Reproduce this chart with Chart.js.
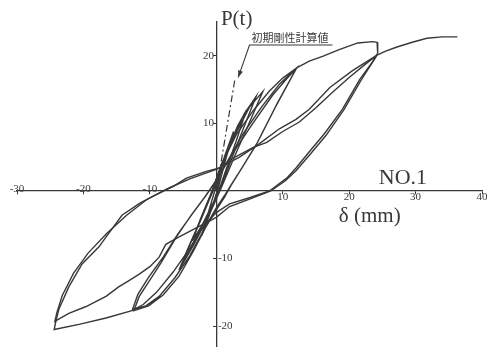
<!DOCTYPE html>
<html><head><meta charset="utf-8">
<script src="https://cdn.jsdelivr.net/npm/chart.js@4/dist/chart.umd.min.js"></script>
<style>html,body{margin:0;padding:0;background:#fff;}#wrap{width:487px;height:356px;}</style>
</head><body><div id="wrap"><canvas id="c" width="487" height="356"></canvas></div>
<script>
// tick values
const deltaTicks = [-30, -20, -10, 0, 10, 20, 30, 40];
const loadTicks = [-20, -10, 0, 10, 20];

// small cycles (delta in mm, load in t)
const smallDelta = [0,1.2,2.6, 1.4,0.3,-1,-2.2, -1.2,0,1.5,3.2,4.5, 3,1.2,0,-1.8,-3.6, -2.4,-0.8,0.8,2.5,4.2,6, 4.3,2,0.4,-1.5,-3.5,-5.3, -4,-2.2,-0.5,1,3,5,7, 5.2,2.8,0.8,-1,-3.3,-5.6];
const smallLoad  = [0,5,8.8, 4.6,0.5,-3.5,-6.6, -3.2,0.8,5.5,9.6,11.9, 7.4,2.4,-1,-4.5,-7.4, -4.2,-0.4,4,8,11.4,14, 9.8,4,0,-3.8,-7.8,-11.2, -8,-4,0,4.2,8.6,12.4,14.7, 10.6,5.2,0.6,-3.4,-7.8,-11.7];

// medium cycles (about +-12 mm)
const mediumDelta = [-5.6,-4.3,-2.5,-0.8,0.8,3,5.5,8,10,12.1, 9,6,3.6,2.2,1.2, 0,-1.6,-3.5,-5.6,-8,-10.2,-12.4, -11.6,-10,-8.3,-6,-3.8,-1.8,0, 1.8,4,6.8,9.5,12.1, 9.2,6.2,3.8,2.3,1.3, 0,-1.8,-4,-6.2,-8.6,-10.6,-12.6, -11.8,-10.2,-8,-5.8,-3.6,-1.5,0.3, 2.5,5.5,8.5,10.5,12.1];
const mediumLoad  = [-11.7,-8.6,-4.6,-0.5,4,8.3,11.8,14.8,16.7,18.2, 12.6,6.8,3,0.8,-1, -2.8,-5.4,-9,-12.6,-15.4,-17,-17.7, -15.6,-13.2,-10.6,-6.8,-3.6,-1,1.6, 4.6,8.4,12.4,15.8,18.2, 13,7.2,3.3,1,-0.6, -2.5,-5.6,-9.6,-12.8,-15.6,-17,-17.5, -15.3,-12.8,-9.8,-6.4,-3.4,-0.6,2, 5.6,10,14.2,16.5,18.2];

// large cycle 1 (about +-24 mm)
const large1Delta = [12.1,14,16,18.5,21.3,23.5,24.2,24.3, 23.6,21.6,19,16.3,14,12,10.6,8,5,2,0, -2,-4.2,-6.5,-9,-11,-12.7, -16.6,-20.5,-24.4, -24.2,-23.7,-22.2,-20.2,-17.7,-14.2,-11.5,-9,-6.6,-4.5,-1.5,0.5, 2.4,5.5,7.6,10,12.5,15,17.5,20,22.5,24.2];
const large1Load  = [18.2,19.2,19.9,20.9,21.9,22.1,22.0,20.4, 19.2,16.5,12.1,8.5,5.8,3.4,1.9,0,-1,-1.9,-3.2, -5.3,-8.8,-12,-15,-16.8,-17.7, -18.8,-19.7,-20.5, -19.5,-17.5,-14.2,-10.8,-8.3,-3.6,-1.8,-0.5,0.6,1.9,2.9,3.4, 4.8,6.4,7.2,8.8,10.2,12.3,14.6,16.8,18.8,20.1];

// large cycle 2
const large2Delta = [24.2,21.8,19.2,16.5,14.2,12,10.4,8.2,5,2,0, -3.3,-5.8,-7.6,-8.6,-10,-11.6,-13.2,-14.7,-16.6,-18,-19.6,-22.2,-24.3, -24,-23.2,-21.5,-19.3,-16.5,-13.5,-10.5,-7.2,-4,0, 3.5,6.5,9.5,12,14,17.1,20.5,24.2];
const large2Load  = [20.1,16.4,12,8.2,5.5,3,1.5,0,-1.2,-2.3,-3.9, -5.6,-6.9,-7.9,-9.8,-11.2,-12.3,-13.3,-14.2,-15.6,-16.3,-17.1,-18.1,-19.3, -18,-15.5,-12.2,-9.2,-6.3,-3.6,-1.3,0.4,1.8,3.2, 5,7,9.2,10.6,12.1,15.3,17.8,20.1];

// final monotonic push
const finalDelta = [24.2,25.5,27.2,29.5,31.7,34,36.3];
const finalLoad  = [20.1,20.7,21.3,22,22.6,22.8,22.8];

// calculated initial stiffness line
const stiffDelta = [0, 2.8];
const stiffLoad  = [0, 16.5];

const ink = '#383838';
const serif = "'Liberation Serif', 'DejaVu Serif', serif";
const pts = (xs, ys) => xs.map((x, i) => ({x: x, y: ys[i]}));
const lineDs = (xs, ys, extra) => Object.assign({
  data: pts(xs, ys), showLine: true, borderColor: ink, borderWidth: 1.4,
  pointRadius: 0, tension: 0, fill: false
}, extra || {});

const annot = {
  id: 'annot',
  afterDraw(chart) {
    const ctx = chart.ctx;
    const sx = chart.scales.x, sy = chart.scales.y;
    const px = v => sx.getPixelForValue(v), py = v => sy.getPixelForValue(v);
    ctx.save();
    ctx.fillStyle = ink; ctx.strokeStyle = ink;
    ctx.textBaseline = 'middle';
    ctx.textAlign = 'left';
    ctx.font = '21px ' + serif;
    ctx.fillText('P(t)', px(0.7), py(25.3));
    ctx.textAlign = 'center';
    ctx.font = '22px ' + serif;
    ctx.fillText('NO.1', px(28.1), py(1.9));
    ctx.font = '21px ' + serif;
    ctx.fillText('\u03B4 (mm)', px(23.1), py(-3.8));
    ctx.textAlign = 'left';
    ctx.font = "11px 'Noto Sans CJK JP'";
    ctx.fillText('初期剛性計算値', px(5.3), py(22.7));
    // underline and pointer
    const ax = px(5), ay = py(21.6), tx = px(3.3), ty = py(16.8);
    ctx.lineWidth = 1.1;
    ctx.beginPath();
    ctx.moveTo(px(17.5), ay); ctx.lineTo(ax, ay); ctx.lineTo(tx, ty);
    ctx.stroke();
    const dx = tx - ax, dy = ty - ay, L = Math.hypot(dx, dy), ux = dx / L, uy = dy / L;
    ctx.beginPath();
    ctx.moveTo(tx, ty);
    ctx.lineTo(tx - ux * 7 - uy * 2.5, ty - uy * 7 + ux * 2.5);
    ctx.lineTo(tx - ux * 7 + uy * 2.5, ty - uy * 7 - ux * 2.5);
    ctx.closePath(); ctx.fill();
    ctx.restore();
  }
};

const tickFont = {family: serif, size: 11};

new Chart(document.getElementById('c'), {
  type: 'scatter',
  data: {
    datasets: [
      lineDs(smallDelta, smallLoad),
      lineDs(mediumDelta, mediumLoad),
      lineDs(large1Delta, large1Load),
      lineDs(large2Delta, large2Load),
      lineDs(finalDelta, finalLoad),
      lineDs(stiffDelta, stiffLoad, {borderDash: [7, 3, 2, 3], borderWidth: 1.2})
    ]
  },
  options: {
    responsive: false, animation: false, devicePixelRatio: 1,
    layout: {padding: {left: 17, right: 5, top: 22, bottom: 6}},
    plugins: {legend: {display: false}, tooltip: {enabled: false}, title: {display: false}},
    scales: {
      x: {
        type: 'linear', min: -30, max: 40, position: {y: 0},
        afterBuildTicks: s => { s.ticks = deltaTicks.map(v => ({value: v})); },
        ticks: {callback: v => (v > 0 ? String(v) : ''), font: tickFont, color: ink, padding: -3, maxRotation: 0, autoSkip: false},
        grid: {display: true, drawOnChartArea: false, drawTicks: true, tickLength: 3, color: ink},
        border: {display: true, color: ink, width: 1.3}
      },
      x2: {
        type: 'linear', axis: 'x', min: -30, max: 40, position: {y: 0},
        afterBuildTicks: s => { s.ticks = deltaTicks.map(v => ({value: v})); },
        ticks: {callback: v => (v < 0 ? String(v) : ''), font: tickFont, color: ink, padding: -16.6, maxRotation: 0, autoSkip: false},
        grid: {display: false},
        border: {display: false}
      },
      y: {
        type: 'linear', min: -23, max: 25, position: {x: 0},
        afterBuildTicks: s => { s.ticks = loadTicks.map(v => ({value: v})); },
        ticks: {callback: v => (v > 0 ? String(v) + '\u2009' : ''), font: tickFont, color: ink, autoSkip: false},
        grid: {display: true, drawOnChartArea: false, drawTicks: true, tickLength: 3, color: ink},
        border: {display: true, color: ink, width: 1.3}
      },
      y2: {
        type: 'linear', axis: 'y', min: -23, max: 25, position: {x: 2.45},
        afterBuildTicks: s => { s.ticks = loadTicks.map(v => ({value: v})); },
        ticks: {callback: v => (v < 0 ? String(v) : ''), font: tickFont, color: ink, autoSkip: false},
        grid: {display: false},
        border: {display: false}
      }
    }
  },
  plugins: [annot]
});
</script></body></html>
